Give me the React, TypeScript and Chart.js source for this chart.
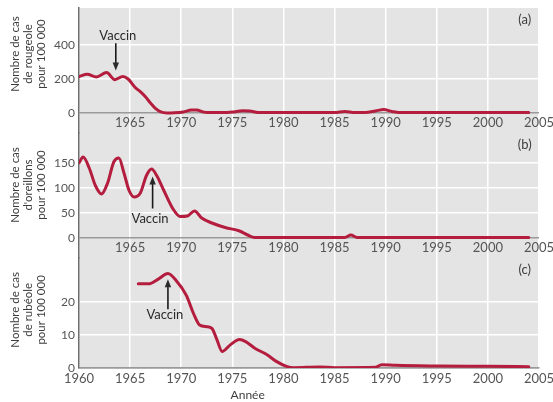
import React, { useEffect, useRef } from "react";
import { Chart, registerables } from "chart.js";

Chart.register(...registerables);

// ---------- data ----------
const xTicks = [1960, 1965, 1970, 1975, 1980, 1985, 1990, 1995, 2000, 2005];

const yearsA = [1960, 1960.8, 1961.7, 1962.7, 1963.5, 1964.3, 1964.8, 1965.5, 1966, 1966.5, 1967, 1967.5, 1968, 1968.6, 1969.3, 1970.2, 1971, 1971.5, 1972.2, 1973, 1974, 1975, 1976, 1976.7, 1977.5, 1978.5, 1980, 1985, 1986, 1987, 1988, 1989, 1989.8, 1990.6, 1991.3, 1995, 2000, 2004];
const measles = [215, 228, 212, 238, 196, 215, 200, 150, 125, 95, 58, 25, 6, 0, 1, 6, 17, 17, 5, 2, 2, 5, 13, 12, 3, 2, 2, 2, 9, 2, 3, 12, 20, 9, 2, 2, 2, 2];

const yearsB = [1960, 1960.4, 1961, 1961.6, 1962.2, 1962.8, 1963.4, 1963.9, 1964.4, 1964.9, 1965.4, 1966, 1966.6, 1967.1, 1967.6, 1968.3, 1969.2, 1969.9, 1970.6, 1971.3, 1972, 1973, 1974.3, 1975.7, 1976.5, 1977.2, 1980, 1986, 1986.6, 1987.2, 1990, 2004];
const mumps = [150, 162, 140, 105, 88, 110, 152, 160, 130, 95, 82, 90, 125, 138, 125, 95, 58, 43, 44, 54, 40, 30, 21, 14, 6, 1, 1, 1, 6, 1, 1, 1];

const yearsC = [1965.8, 1966.8, 1967.8, 1968.7, 1969.5, 1970.5, 1971.2, 1971.8, 1972.5, 1973, 1973.5, 1974, 1974.8, 1975.7, 1976.3, 1977.2, 1978.4, 1979.3, 1980.3, 1981, 1983.5, 1985, 1989, 1989.6, 1991, 1995, 2000, 2004];
const rubella = [25.5, 25.5, 27, 28.6, 26.5, 22, 16.5, 13, 12.5, 12, 8.5, 5, 7, 8.6, 8, 6, 4, 2, 0.5, 0.1, 0.3, 0.1, 0.2, 1, 0.8, 0.6, 0.5, 0.4];

const ticksA = [0, 200, 400];
const ticksB = [0, 50, 100, 150];
const ticksC = [0, 10, 20];

const panelLetters = ["(a)", "(b)", "(c)"];
const yTitles = [
  ["Nombre de cas", "de rougeole", "pour 100 000"],
  ["Nombre de cas", "d'oreillons", "pour 100 000"],
  ["Nombre de cas", "de rubéole", "pour 100 000"],
];
const vaccineLabel = "Vaccin";
const xTitle = "Année";

// ---------- styles ----------
const FONT = "Lato, 'Open Sans', sans-serif";
const LINE = "#b41d3d";
const TEXT = "#3d3d3d";
const TICK = "#555555";
const BG = "#e4e4e4";

function mk(xs: number[], ys: number[]) {
  return xs.map((x, i) => ({ x, y: ys[i] }));
}

const yScale = (ticks: number[], min: number, max: number, weight: number) => ({
  type: "linear" as const,
  position: "left" as const,
  stack: "panels",
  stackWeight: weight,
  min,
  max,
  afterBuildTicks: (s: any) => {
    s.ticks = ticks.map((v) => ({ value: v }));
  },
  afterFit: (s: any) => {
    s.width = 79;
    s.paddingTop = 0;
    s.paddingBottom = 0;
  },
  ticks: {
    font: { family: FONT, size: 12 },
    color: TICK,
    padding: 4,
    callback: (v: any) => String(v),
  },
  grid: {
    drawTicks: false,
    lineWidth: 1.5,
    color: (c: any) => (c.tick && c.tick.value === 0 ? "#9a9a9a" : "#ffffff"),
  },
  border: { display: true, color: "#6d6d6d", width: 1.5 },
});

const bgPlugin = {
  id: "bg",
  beforeDraw(chart: any) {
    const { ctx, chartArea: a } = chart;
    ctx.save();
    ctx.fillStyle = BG;
    ctx.fillRect(a.left, a.top, a.right - a.left, a.bottom - a.top);
    ctx.restore();
  },
};

function arrow(ctx: CanvasRenderingContext2D, x: number, y0: number, y1: number) {
  const dir = y1 > y0 ? 1 : -1;
  ctx.beginPath();
  ctx.moveTo(x, y0);
  ctx.lineTo(x, y1 - dir * 5);
  ctx.stroke();
  ctx.beginPath();
  ctx.moveTo(x, y1);
  ctx.lineTo(x - 3.2, y1 - dir * 8);
  ctx.lineTo(x + 3.2, y1 - dir * 8);
  ctx.closePath();
  ctx.fill();
}

const annPlugin = {
  id: "ann",
  afterDraw(chart: any) {
    const ctx: CanvasRenderingContext2D = chart.ctx;
    const x = chart.scales.x;
    const ys = [chart.scales.yA, chart.scales.yB, chart.scales.yC];
    ctx.save();
    ctx.font = `13px ${FONT}`;
    ctx.fillStyle = TICK;
    ctx.textAlign = "center";
    ctx.textBaseline = "middle";
    [ys[0], ys[1]].forEach((y) => {
      const py = y.getPixelForValue(0) + 10;
      xTicks.slice(1).forEach((t) => ctx.fillText(String(t), x.getPixelForValue(t), py));
    });
    ctx.fillStyle = TEXT;
    ys.forEach((y, i) => {
      ctx.fillText(panelLetters[i], x.getPixelForValue(2003.6), y.top + 12);
    });
    const centers = [347, 106, 17.6];
    ctx.font = `11.5px ${FONT}`;
    ys.forEach((y, i) => {
      const cy = y.getPixelForValue(centers[i]);
      yTitles[i].forEach((line, j) => {
        ctx.save();
        ctx.translate(15 + j * 13, cy);
        ctx.rotate(-Math.PI / 2);
        ctx.fillText(line, 0, 0);
        ctx.restore();
      });
    });
    ctx.font = `12px ${FONT}`;
    ctx.fillText(xTitle, x.getPixelForValue(1976.5), 395);
    ctx.font = `13px ${FONT}`;
    ctx.fillStyle = "#2a2a2a";
    ctx.strokeStyle = "#1a1a1a";
    ctx.lineWidth = 1.6;
    ctx.fillText(vaccineLabel, x.getPixelForValue(1963.8), ys[0].getPixelForValue(453));
    arrow(ctx, x.getPixelForValue(1963.6), ys[0].getPixelForValue(411), ys[0].getPixelForValue(250));
    ctx.fillText(vaccineLabel, x.getPixelForValue(1966.95), ys[1].getPixelForValue(39));
    arrow(ctx, x.getPixelForValue(1967.2), ys[1].getPixelForValue(59), ys[1].getPixelForValue(123));
    ctx.fillText(vaccineLabel, x.getPixelForValue(1968.4), ys[2].getPixelForValue(16));
    arrow(ctx, x.getPixelForValue(1968.7), ys[2].getPixelForValue(17.8), ys[2].getPixelForValue(26.9));
    ctx.restore();
  },
};

export default function App() {
  const ref = useRef<HTMLCanvasElement | null>(null);
  useEffect(() => {
    if (!ref.current) return;
    const ds = (data: any[], axis: string) => ({
      data,
      yAxisID: axis,
      borderColor: LINE,
      borderWidth: 3,
      pointRadius: 0,
      cubicInterpolationMode: "monotone" as const,
      borderCapStyle: "round" as const,
      borderJoinStyle: "round" as const,
      fill: false,
    });
    const chart = new Chart(ref.current, {
      type: "line",
      data: {
        datasets: [
          ds(mk(yearsA, measles), "yA"),
          ds(mk(yearsB, mumps), "yB"),
          ds(mk(yearsC, rubella), "yC"),
        ],
      },
      options: {
        responsive: false,
        animation: false,
        devicePixelRatio: window.devicePixelRatio || 1,
        layout: { padding: { top: 8, right: 14, left: 0, bottom: 0 } },
        plugins: { legend: { display: false }, tooltip: { enabled: false } },
        scales: {
          x: {
            type: "linear",
            position: "bottom",
            min: 1960,
            max: 2005,
            afterBuildTicks: (s: any) => {
              s.ticks = xTicks.map((v) => ({ value: v }));
            },
            afterFit: (s: any) => {
              s.height = 34;
              s.paddingLeft = 0;
              s.paddingRight = 0;
            },
            ticks: {
              font: { family: FONT, size: 13 },
              color: TICK,
              padding: 3,
              autoSkip: false,
              maxRotation: 0,
              callback: (v: any) => String(v),
            },
            grid: { drawTicks: false, color: "#ffffff", lineWidth: 1.5 },
            border: { display: true, color: "#9a9a9a", width: 1.5 },
          },
          yC: yScale(ticksC, 0, 33.3, 110),
          yB: yScale(ticksB, -40, 210, 125),
          yA: yScale(ticksA, -118, 618, 125),
        } as any,
      },
      plugins: [bgPlugin, annPlugin],
    });
    return () => chart.destroy();
  }, []);
  return (
    <div style={{ position: "fixed", left: 0, top: 0, width: 553, height: 402, background: "#fff" }}>
      <canvas ref={ref} width={553} height={402} style={{ display: "block", width: 553, height: 402 }} />
    </div>
  );
}
